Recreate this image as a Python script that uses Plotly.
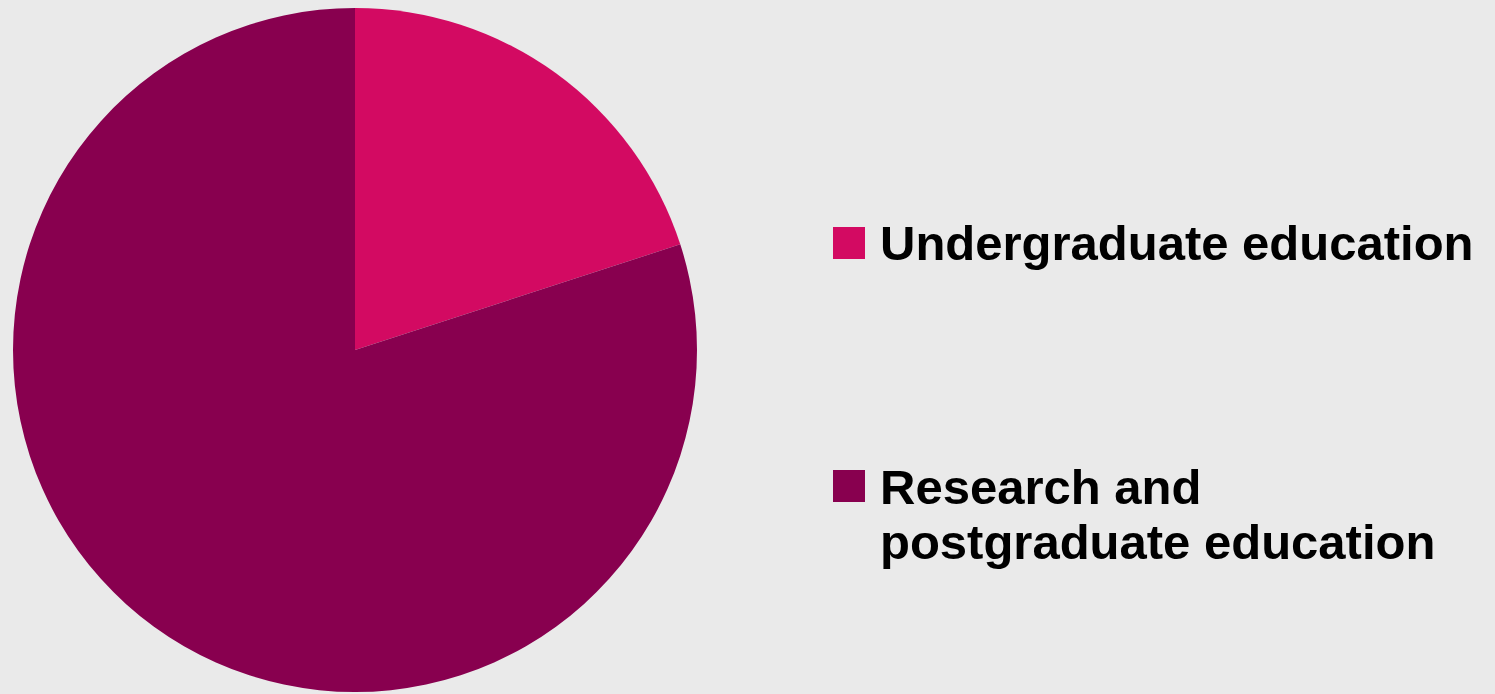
import plotly.graph_objects as go

labels = ["Undergraduate education", "Research and postgraduate education"]
values = [20, 80]
colors = ["#D30A62", "#88004F"]
legend_lines = [["Undergraduate education"], ["Research and", "postgraduate education"]]

W, H = 1495, 694
BG = "#EAEAEA"

fig = go.Figure()
fig.add_trace(go.Pie(
    labels=labels,
    values=values,
    sort=False,
    direction="clockwise",
    rotation=0,
    marker=dict(colors=colors, line=dict(width=0)),
    textinfo="none",
    hoverinfo="label+percent",
    showlegend=False,
    domain=dict(x=[12 / W, 698 / W], y=[2 / H, 686 / H]),
))

# custom legend
box_top = [227, 470]
line_center = [[243], [487, 542]]
for i, lines in enumerate(legend_lines):
    fig.add_shape(type="rect", xref="paper", yref="paper",
                  x0=833 / W, x1=865 / W,
                  y0=1 - (box_top[i] + 32) / H, y1=1 - box_top[i] / H,
                  fillcolor=colors[i], line=dict(width=0))
    for j, txt in enumerate(lines):
        fig.add_annotation(xref="paper", yref="paper",
                           x=878 / W, y=1 - line_center[i][j] / H,
                           xanchor="left", yanchor="middle",
                           text=txt, showarrow=False,
                           font=dict(family="Liberation Sans, Arial, sans-serif",
                                     size=49, color="#000000", weight="bold"))

fig.update_layout(
    width=W, height=H,
    margin=dict(l=0, r=0, t=0, b=0),
    paper_bgcolor=BG, plot_bgcolor=BG,
)

fig.write_html(
    "out.html",
    config={"displayModeBar": False},
    post_script="document.body.style.margin='0';document.body.style.background='#EAEAEA';",
)
